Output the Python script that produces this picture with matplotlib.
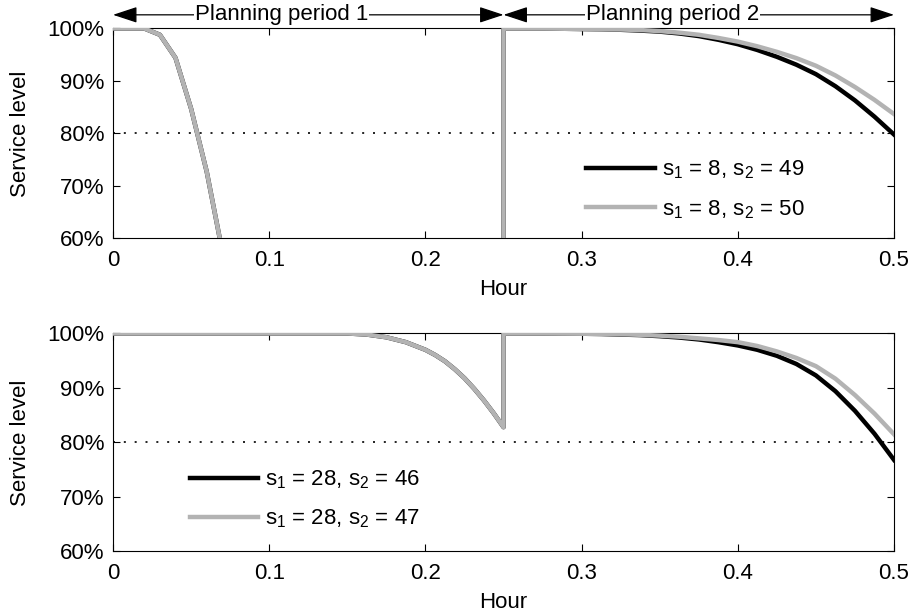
import matplotlib
matplotlib.use('Agg')
import matplotlib.pyplot as plt
from matplotlib.ticker import FuncFormatter

plt.rcParams['font.family'] = ['Liberation Sans', 'DejaVu Sans']
plt.rcParams['mathtext.fontset'] = 'custom'
plt.rcParams['mathtext.rm'] = 'Liberation Sans'

# ---- data (service level in %, time in hours) ----
# upper panel: s1 = 8, period 1 is the same for both curves
top_p1_hours = [0, 0.01, 0.02, 0.03, 0.04, 0.05, 0.06, 0.07, 0.08, 0.10, 0.15, 0.25]
top_p1_level = [100, 100, 100, 98.8, 94.4, 84.7, 72.7, 57.5, 44, 21, 2, 0]

p2_hours = [0.25, 0.2625, 0.275, 0.2875, 0.3, 0.3125, 0.325, 0.3375, 0.35, 0.3625, 0.375,
            0.3875, 0.4, 0.4125, 0.425, 0.4375, 0.45, 0.4625, 0.475, 0.4875, 0.5]
top_p2_s49 = [100, 100, 100, 99.95, 99.9, 99.85, 99.75, 99.6, 99.4, 99.05, 98.55,
              97.85, 97.0, 95.9, 94.6, 93.1, 91.3, 89.0, 86.3, 83.2, 79.8]
top_p2_s50 = [100, 100, 100, 99.95, 99.9, 99.85, 99.8, 99.7, 99.5, 99.2, 98.8,
              98.2, 97.5, 96.6, 95.55, 94.35, 92.9, 91.05, 88.85, 86.4, 83.7]

# lower panel: s1 = 28
bot_p1_hours = [0, 0.05, 0.1, 0.15, 0.1625, 0.175, 0.1875, 0.2, 0.20625, 0.2125,
                0.21875, 0.225, 0.23125, 0.2375, 0.24375, 0.25]
bot_p1_level = [100, 100, 100, 100, 99.8, 99.3, 98.4, 97.0, 96.05, 94.9,
                93.45, 91.8, 89.85, 87.7, 85.35, 82.8]
bot_p2_s46 = [100, 100, 100, 99.97, 99.95, 99.9, 99.8, 99.7, 99.5, 99.25, 98.9,
              98.4, 97.8, 97.0, 95.9, 94.4, 92.3, 89.4, 85.8, 81.6, 76.8]
bot_p2_s47 = [100, 100, 100, 99.97, 99.95, 99.92, 99.85, 99.75, 99.6, 99.4, 99.1,
              98.8, 98.4, 97.7, 96.7, 95.5, 94.0, 91.7, 88.7, 85.3, 81.5]

target = 80
periods = [(0, 0.25, 'Planning period 1'), (0.25, 0.5, 'Planning period 2')]

BLACK = 'black'
GRAY = '#b3b3b3'
FS = 16


def style_axes(ax):
    ax.set_xlim(0, 0.5)
    ax.set_ylim(60, 100)
    ax.set_xticks([0, 0.1, 0.2, 0.3, 0.4, 0.5])
    ax.set_yticks([60, 70, 80, 90, 100])
    ax.xaxis.set_major_formatter(FuncFormatter(lambda v, p: '0' if v == 0 else f'{v:g}'))
    ax.yaxis.set_major_formatter(FuncFormatter(lambda v, p: f'{v:.0f}%'))
    ax.tick_params(direction='in', top=True, right=True, length=5, width=0.8, labelsize=FS)
    ax.tick_params(axis='x', pad=8)
    ax.tick_params(axis='y', pad=6)
    ax.axhline(target, color='black', lw=1.2, linestyle=(0, (1.2, 5.3)), zorder=1)
    ax.set_xlabel('Hour', fontsize=FS, labelpad=6)
    ax.set_ylabel('Service level', fontsize=FS)
    ax.yaxis.set_label_coords(-0.105, 0.5)


def plot_panel(ax, p1_hours, p1_level, p2_a, p2_b, labels):
    hours = p1_hours + p2_hours
    ax.plot(hours, p1_level + p2_a, color=BLACK, lw=3.2, zorder=3, label=labels[0])
    ax.plot(hours, p1_level + p2_b, color=GRAY, lw=3.2, zorder=3, label=labels[1])


fig = plt.figure(figsize=(9.13, 6.15), dpi=100)
ax1 = fig.add_axes([0.1238, 0.6122, 0.8554, 0.3415])
ax2 = fig.add_axes([0.1238, 0.1033, 0.8554, 0.3545])

plot_panel(ax1, top_p1_hours, top_p1_level, top_p2_s49, top_p2_s50,
           [r'$\mathregular{s_1}$ = 8, $\mathregular{s_2}$ = 49',
            r'$\mathregular{s_1}$ = 8, $\mathregular{s_2}$ = 50'])
plot_panel(ax2, bot_p1_hours, bot_p1_level, bot_p2_s46, bot_p2_s47,
           [r'$\mathregular{s_1}$ = 28, $\mathregular{s_2}$ = 46',
            r'$\mathregular{s_1}$ = 28, $\mathregular{s_2}$ = 47'])

for ax in (ax1, ax2):
    style_axes(ax)

leg_kw = dict(frameon=False, fontsize=FS, handlelength=3.1, handletextpad=0.3,
              labelspacing=0.75, borderpad=0, borderaxespad=0, loc='upper left')
ax1.legend(bbox_to_anchor=(0.606, 0.38), **leg_kw)
ax2.legend(bbox_to_anchor=(0.098, 0.38), **leg_kw)

# planning period arrows above the upper panel
for start, end, name in periods:
    ax1.annotate('', xy=(end, 102.6), xytext=(start, 102.6), xycoords='data',
                 annotation_clip=False,
                 arrowprops=dict(arrowstyle='<|-|>,head_length=1.0,head_width=0.33',
                                 mutation_scale=15, color='black', lw=0.9,
                                 shrinkA=0, shrinkB=0))
    ax1.text(start + 0.108, 102.6, name, fontsize=FS, ha='center', va='center',
             clip_on=False, bbox=dict(facecolor='white', edgecolor='none', pad=0.5))

fig.savefig('out.png', dpi=100)
